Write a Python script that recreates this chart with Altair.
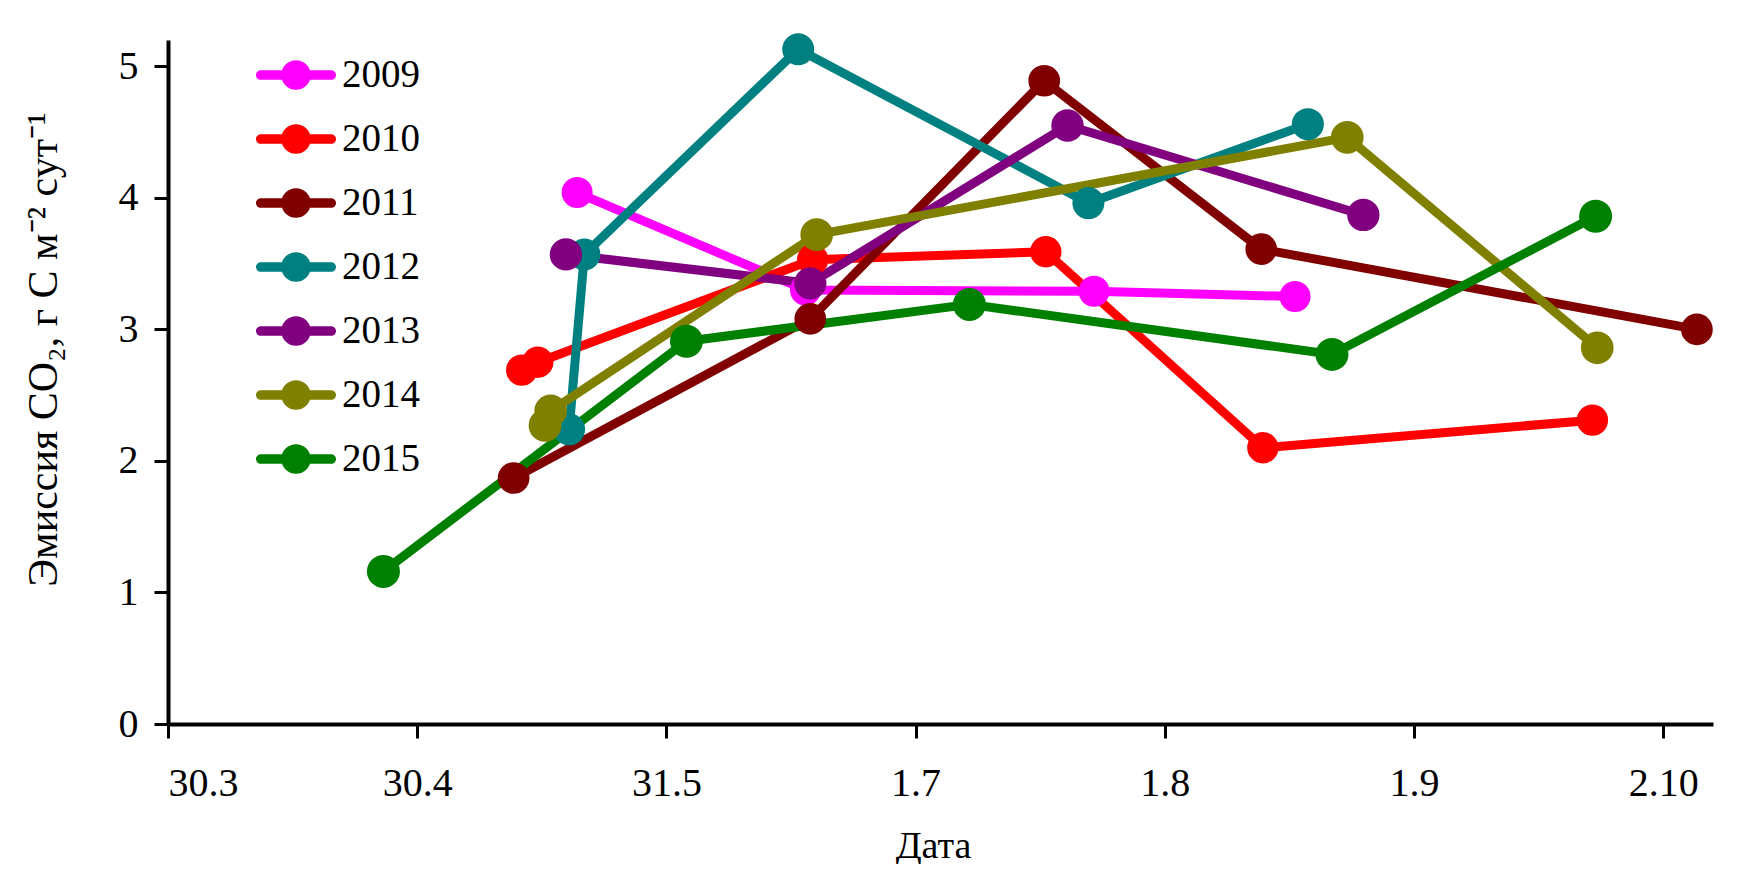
import altair as alt
import pandas as pd

# ---- data (x = days after 30 March, y = CO2 emission) ----
years = ["2009", "2010", "2011", "2012", "2013", "2014", "2015"]
colors = ["#FF00FF", "#FF0000", "#800000", "#008080", "#800080", "#808000", "#008000"]
marker_sizes = [961, 1089, 900, 1024, 1369, 1024, 1156]

days_2009 = [50.9, 79.3, 115.2, 140.2]
vals_2009 = [4.04, 3.30, 3.29, 3.25]

days_2010 = [44.0, 46.0, 80.2, 109.2, 136.2, 177.2]
vals_2010 = [2.69, 2.75, 3.53, 3.59, 2.10, 2.31]

days_2011 = [43.0, 79.9, 109.0, 136.0, 190.2]
vals_2011 = [1.87, 3.08, 4.89, 3.61, 3.00]

days_2012 = [49.9, 51.8, 78.4, 114.5, 141.8]
vals_2012 = [2.24, 3.57, 5.13, 3.96, 4.56]

days_2013 = [49.5, 79.9, 111.9, 148.7]
vals_2013 = [3.57, 3.35, 4.55, 3.87]

days_2014 = [46.9, 47.6, 80.7, 146.7, 177.8]
vals_2014 = [2.27, 2.38, 3.72, 4.46, 2.86]

days_2015 = [26.8, 64.5, 99.7, 144.8, 177.6]
vals_2015 = [1.16, 2.91, 3.19, 2.81, 3.86]

tick_days = [0, 31, 62, 93, 124, 155, 186]
tick_labels = ["30.3", "30.4", "31.5", "1.7", "1.8", "1.9", "2.10"]
y_ticks = [0, 1, 2, 3, 4, 5]

series = {
    "2009": (days_2009, vals_2009),
    "2010": (days_2010, vals_2010),
    "2011": (days_2011, vals_2011),
    "2012": (days_2012, vals_2012),
    "2013": (days_2013, vals_2013),
    "2014": (days_2014, vals_2014),
    "2015": (days_2015, vals_2015),
}
rows = []
for yr in years:
    d, v = series[yr]
    for a, b in zip(d, v):
        rows.append({"year": yr, "day": a, "value": b})
df = pd.DataFrame(rows)

FONT = "Liberation Serif"
label_expr = "[" + ",".join("'%s'" % t for t in tick_labels) + "][round(datum.value/31)]"

x_enc = alt.X(
    "day:Q",
    scale=alt.Scale(domain=[0, 192.2], nice=False, zero=False),
    axis=alt.Axis(
        values=tick_days,
        labelExpr=label_expr,
        title="Дата",
        titleX=765,
        titleY=133,
        titleBaseline="alphabetic",
        titleFontSize=38,
        labelPadding=25,
        tickSize=14,
    ),
)
y_enc = alt.Y(
    "value:Q",
    scale=alt.Scale(domain=[0, 5.2], nice=False),
    axis=alt.Axis(
        values=y_ticks,
        title="Эмиссия CO₂, г С м⁻² сут⁻¹",
        titleAngle=270,
        titleAlign="center",
        titleBaseline="alphabetic",
        titleX=-112,
        titleY=309,
        titleFontSize=42,
        labelPadding=16,
        tickSize=14,
    ),
)

legend_symbol = (
    "M-0.88,-0.12 H0.88 A0.12,0.12 0 0 1 0.88,0.12 "
    "H-0.88 A0.12,0.12 0 0 1 -0.88,-0.12 Z "
    "M0,-0.37 A0.37,0.37 0 1 1 0,0.37 A0.37,0.37 0 1 1 0,-0.37 Z"
)

# stroke / size scales take their (sorted) domain from the data, so that
# their hidden legends are not merged with the visible fill legend
lines = alt.Chart(df).mark_line(strokeWidth=9, strokeJoin="round", strokeCap="round").encode(
    x=x_enc,
    y=y_enc,
    stroke=alt.Stroke("year:N", scale=alt.Scale(range=colors), legend=None),
)

points = (
    alt.Chart(df)
    .transform_calculate(series="datum.year")
    .mark_point(filled=True, opacity=1, shape="circle")
    .encode(
        x=x_enc,
        y=y_enc,
        fill=alt.Fill(
            "year:N",
            scale=alt.Scale(domain=years, range=colors),
            legend=alt.Legend(
                title=None,
                orient="none",
                legendX=88,
                legendY=-5,
                direction="vertical",
                symbolType=legend_symbol,
                symbolSize=6400,
                symbolStrokeWidth=0,
                symbolOpacity=1,
                labelFont=FONT,
                labelFontSize=39,
                labelColor="black",
                labelOffset=6,
                rowPadding=4,
                padding=0,
            ),
        ),
        size=alt.Size("series:O", scale=alt.Scale(range=marker_sizes), legend=None),
    )
)

chart = (
    alt.layer(lines, points)
    .properties(
        width=1545,
        height=684,
        autosize=alt.AutoSizeParams(type="none"),
        padding={"left": 160, "top": 32, "right": 20, "bottom": 140},
        background="white",
    )
    .configure_view(stroke=None)
    .configure_axis(
        grid=False,
        labelFont=FONT,
        labelFontSize=40,
        labelColor="black",
        titleFont=FONT,
        titleFontWeight="normal",
        titleColor="black",
        domainColor="black",
        domainWidth=4,
        tickColor="black",
        tickWidth=3,
    )
)

chart.save("out.html", embed_options={"renderer": "svg", "actions": False})
